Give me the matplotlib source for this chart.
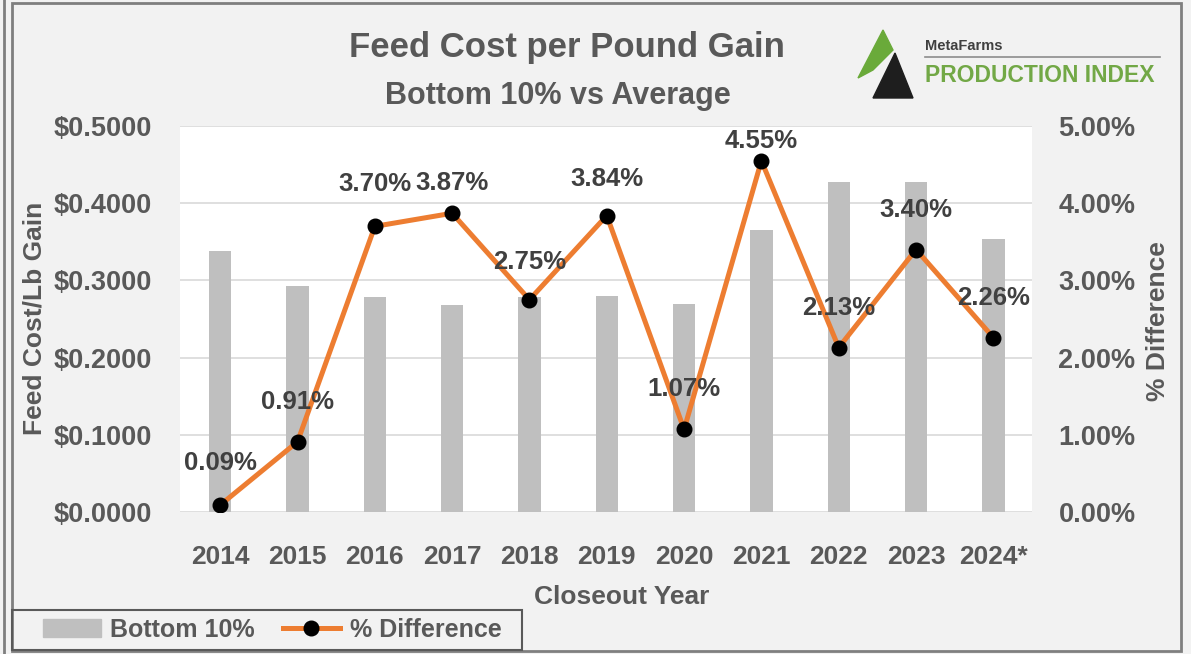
import matplotlib
matplotlib.use("Agg")
import matplotlib.pyplot as plt
from matplotlib.ticker import FuncFormatter, MultipleLocator
from matplotlib.patches import Polygon, Rectangle
from matplotlib.lines import Line2D
from matplotlib import font_manager as fm
import numpy as np

# ---- data ----
years = ["2014", "2015", "2016", "2017", "2018", "2019", "2020", "2021", "2022", "2023", "2024*"]
bottom10 = [0.338, 0.293, 0.278, 0.268, 0.278, 0.280, 0.270, 0.365, 0.427, 0.427, 0.353]
pct_diff = [0.09, 0.91, 3.70, 3.87, 2.75, 3.84, 1.07, 4.55, 2.13, 3.40, 2.26]

# label offsets above points (pixels)
label_offsets_px = [42, 40, 42, 30, 38, 37, 40, 20, 40, 40, 40]

W, H = 1191, 654
DPI = 100
plt.rcParams['font.family'] = ['Liberation Sans', 'DejaVu Sans']
plt.rcParams['font.weight'] = 'bold'

names = {f.name for f in fm.fontManager.ttflist}
has_narrow = 'Liberation Sans Narrow' in names

TXT = '#595959'
LBL = '#404040'
BAR = '#bfbfbf'
ORANGE = '#ED7D31'
BG = '#f2f2f2'
GREEN = '#72a846'

fig = plt.figure(figsize=(W / DPI, H / DPI), dpi=DPI, facecolor=BG)

def fx(px):
    return px / W

def fy(py):
    return 1 - py / H

left, right, top, bottom = 180, 1032, 126, 512
ax = fig.add_axes([fx(left), fy(bottom), fx(right - left), (bottom - top) / H])
ax.set_facecolor('white')
x = np.arange(len(years))
ax.bar(x, bottom10, width=0.29, color=BAR, zorder=2, label='Bottom 10%')
ax.set_xlim(-0.52, len(years) - 0.5)
ax.set_ylim(0, 0.5)
ax.yaxis.set_major_locator(MultipleLocator(0.1))
ax.yaxis.set_major_formatter(FuncFormatter(lambda v, p: "\\$%.4f" % v))
ax.grid(axis='y', color='#d9d9d9', lw=1.2, zorder=0)
ax.set_axisbelow(True)
for s in ax.spines.values():
    s.set_visible(False)
ax.set_xticks(x)
ax.set_xticklabels(years)
ax.tick_params(axis='both', length=0, colors=TXT)
ax.tick_params(axis='y', labelsize=19.5, pad=20)
ax.tick_params(axis='x', labelsize=19, pad=24)

ax2 = ax.twinx()
ax2.plot(x, pct_diff, color=ORANGE, lw=3.6, marker='o', markersize=10.5,
         markerfacecolor='black', markeredgecolor='black', zorder=5, label='% Difference')
ax2.set_ylim(0, 5)
ax2.yaxis.set_major_locator(MultipleLocator(1))
ax2.yaxis.set_major_formatter(FuncFormatter(lambda v, p: "%.2f%%" % v))
ax2.tick_params(axis='y', length=0, colors=TXT, labelsize=19.5, pad=19)
for s in ax2.spines.values():
    s.set_visible(False)

for xi, v, off in zip(x, pct_diff, label_offsets_px):
    ax2.annotate("%.2f%%" % v, (xi, v), xytext=(0, off * 72 / DPI), textcoords='offset points',
                 ha='center', va='center', fontsize=18.5, color=LBL, fontweight='bold', zorder=6)

# titles and axis labels
fig.text(fx(567), fy(47), "Feed Cost per Pound Gain", ha='center', va='center', fontsize=25, color=TXT)
fig.text(fx(558), fy(96), "Bottom 10% vs Average", ha='center', va='center', fontsize=22, color=TXT)
fig.text(fx(35), fy(318), "Feed Cost/Lb Gain", ha='center', va='center', rotation=90, fontsize=19, color=TXT)
fig.text(fx(1158), fy(321), "% Difference", ha='center', va='center', rotation=90, fontsize=19, color=TXT)
fig.text(fx(622), fy(597), "Closeout Year", ha='center', va='center', fontsize=19, color=TXT)

# logo
logo_green = Polygon([(fx(858), fy(78)), (fx(883), fy(30)), (fx(893), fy(50)), (fx(873), fy(70))],
                     closed=True, transform=fig.transFigure, color='#6aaa3a', zorder=3)
logo_black = Polygon([(fx(873), fy(98)), (fx(895), fy(53)), (fx(913), fy(98))], closed=True,
                     transform=fig.transFigure, color='#1e1e1e', zorder=3)
fig.add_artist(logo_green)
fig.add_artist(logo_black)
fig.text(fx(925), fy(46), "MetaFarms", ha='left', va='center', fontsize=10.5, color='#404040',
         family=['Liberation Sans Narrow', 'Liberation Sans'] if has_narrow else ['Liberation Sans'])
fig.add_artist(Line2D([fx(925), fx(1160)], [fy(57), fy(57)], transform=fig.transFigure, color='#8c8c8c', lw=1.2))
if has_narrow:
    fig.text(fx(925), fy(75), "PRODUCTION INDEX", ha='left', va='center', fontsize=20, color=GREEN,
             family=['Liberation Sans Narrow', 'Liberation Sans'])
else:
    fig.text(fx(925), fy(75), "PRODUCTION INDEX", ha='left', va='center', fontsize=16.5, color=GREEN)

# outer frame
fig.add_artist(Rectangle((fx(12), fy(651)), fx(1181 - 12), (651 - 3) / H, transform=fig.transFigure,
                         fill=False, edgecolor='#7f7f7f', lw=2, zorder=10))
fig.add_artist(Line2D([fx(4), fx(4)], [fy(0), fy(654)], transform=fig.transFigure, color='#7f7f7f', lw=2))

# legend
handles = [Rectangle((0, 0), 1, 1, color=BAR),
           Line2D([0], [0], color=ORANGE, lw=3.6, marker='o', markersize=10.5,
                  markerfacecolor='black', markeredgecolor='black')]
leg = fig.legend(handles, ['Bottom 10%', '% Difference'], loc='center left',
                 bbox_to_anchor=(fx(43), fy(630)), ncol=2, frameon=False,
                 fontsize=18, handlelength=2.3, handleheight=0.75, handletextpad=0.4,
                 columnspacing=1.1, borderpad=0, borderaxespad=0)
for t in leg.get_texts():
    t.set_color(TXT)
fig.add_artist(Rectangle((fx(12), fy(650)), fx(522 - 12), (650 - 610) / H, transform=fig.transFigure,
                         fill=False, edgecolor='#595959', lw=1.5, zorder=11))

fig.savefig("out.png", dpi=DPI, facecolor=BG)
